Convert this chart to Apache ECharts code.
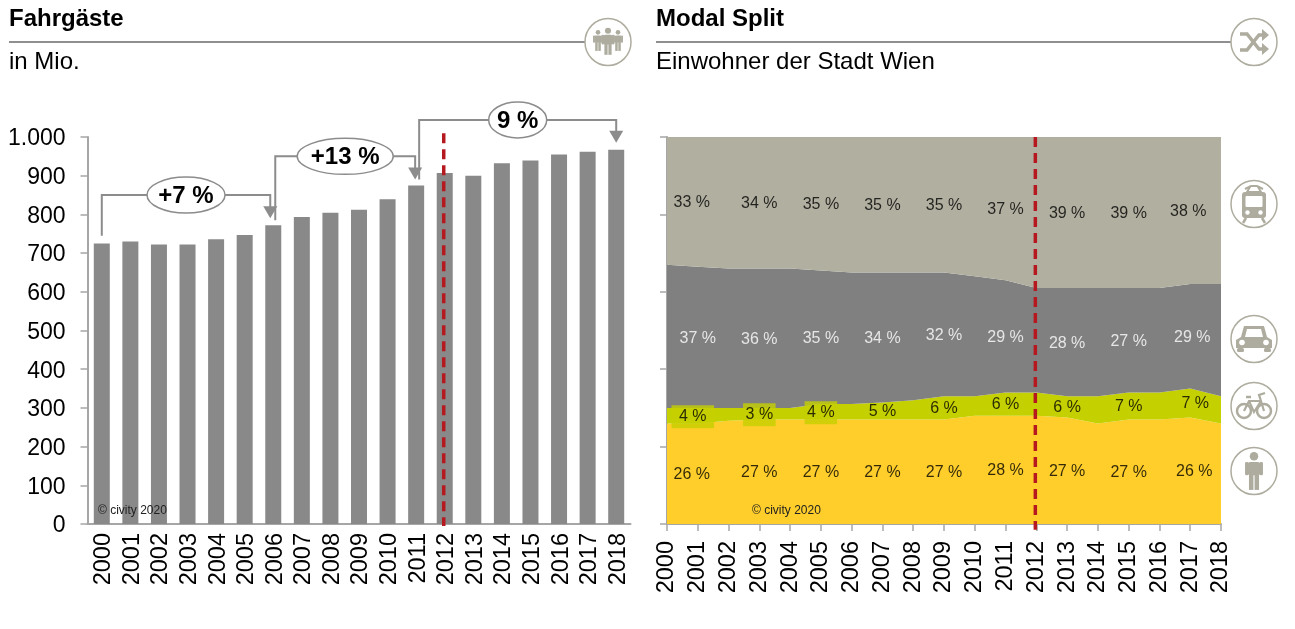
<!DOCTYPE html>
<html><head><meta charset="utf-8">
<style>html,body{margin:0;padding:0;background:#fff}#c{width:1295px;height:629px}</style>
<script src="https://cdn.jsdelivr.net/npm/echarts@6/dist/echarts.min.js"></script>
</head><body><div id="c"></div>
<script>
const years = ['2000','2001','2002','2003','2004','2005','2006','2007','2008','2009','2010','2011','2012','2013','2014','2015','2016','2017','2018'];
const passengers = [725,730,722,722,736,747,772,793,804,812,839,875,907,900,932,939,955,962,967];
const walkShare = [26,26,26.7,27,27,27,27,27,27,27,28,28,28,27.5,26,27,27,27.5,26];
const bikeShare = [4,4,3.3,3,3,4,4,4.4,5,6,5,6,6,5.5,7,7,7,7.5,7];
const carShare = [37,36.5,36,36,36,34.5,34,33.6,33,32,31,29,27,28,28,27,27,27,29];
const ptShare = [33,33.5,34,34,34,34.5,35,35,35,35,36,37,39,39,39,39,39,38,38];
const labelYears = [1,3,5,7,9,11,13,15,17];
const walkLabels = [26,27,27,27,27,28,27,27,26];
const bikeLabels = [4,3,4,5,6,6,6,7,7];
const carLabels = [37,36,35,34,32,29,28,27,29];
const ptLabels = [33,34,35,35,35,37,39,39,38];
const brackets = [
  {from:0, startVal:745, topVal:850, to:6, endVal:790, text:'+7 %'},
  {from:6, startVal:785, topVal:950, to:11, endVal:890, text:'+13 %'},
  {from:11, startVal:890, topVal:1044, to:18, endVal:985, text:'9 %'}
];
const FONT = '"Liberation Sans", Arial, sans-serif';
const AXIS = '#a6a6a6', ICON = '#aeac9e', RED = '#b5191f';
const G = {l:[87.5,137,543,387], r:[667,137,554,387]};

function band(i, lower, own){ return lower[i] + own[i]/2; }
const cum0 = years.map(()=>0);
const cum1 = walkShare.slice();
const cum2 = cum1.map((v,i)=>v+bikeShare[i]);
const cum3 = cum2.map((v,i)=>v+carShare[i]);

function labelSeries(name, lower, own, labels, color, nudge, bg){
  return {
    type:'scatter', name, xAxisIndex:1, yAxisIndex:1, symbolSize:0, z:5, silent:true,
    data: labelYears.map((yi,k)=>({
      value:[yi, band(yi,lower,own)],
      label:{
        show:true, position:'inside', formatter: labels[k]+' %', color, fontFamily:FONT, fontSize:16,
        offset:[k===0 ? nudge[0] : k===8 ? nudge[1] : 0, 1],
        backgroundColor: (bg && k<3) ? bg : 'transparent',
        padding: (bg && k<3) ? [4, k===0?7.5:2.5, 3, k===0?7.5:2.5] : 0
      }
    }))
  };
}
function area(name, vals, color){
  return {type:'line', name, stack:'m', xAxisIndex:1, yAxisIndex:1, data:vals, symbol:'none', silent:true,
    lineStyle:{width:0}, areaStyle:{color, opacity:1}, itemStyle:{color}, z:2};
}
function redLine(xAxisIndex, yAxisIndex, yTop, yBottom, dx){
  return {type:'custom', xAxisIndex, yAxisIndex, clip:false, z:6, silent:true, data:[[12,0]],
    renderItem(p, api){
      const a = api.coord([12,yTop]), b = api.coord([12,yBottom]);
      return {type:'line', shape:{x1:a[0]+dx,y1:a[1],x2:b[0]+dx,y2:b[1]},
        style:{stroke:RED, lineWidth:3.5, lineDash:[10,6]}};
    }};
}
const bracketSeries = {
  type:'custom', xAxisIndex:0, yAxisIndex:0, clip:false, z:7, silent:true,
  data: brackets.map((b,i)=>[b.from, b.topVal]),
  renderItem(p, api){
    const b = brackets[p.dataIndex];
    const s = api.coord([b.from,b.startVal]), t = api.coord([b.to,b.topVal]), e = api.coord([b.to,b.endVal]);
    const x1 = s[0] + (b.from===6 ? 2 : b.from===11 ? 3 : 0), x2 = e[0] + (b.to===6 ? -3 : b.to===11 ? -1 : 0), yT = t[1];
    const mx = (x1+x2)/2, rx = b.text.length>4 ? 48 : b.text.length>3 ? 39 : 29;
    const col = '#8c8c8c';
    return {type:'group', children:[
      {type:'polyline', shape:{points:[[x1,s[1]],[x1,yT],[x2,yT],[x2,e[1]-8]]}, style:{stroke:col,lineWidth:2,fill:null}},
      {type:'polygon', shape:{points:[[x2-7,e[1]-12],[x2+7,e[1]-12],[x2,e[1]]]}, style:{fill:col}},
      {type:'ellipse', shape:{cx:mx,cy:yT,rx,ry:18}, style:{fill:'#fff',stroke:col,lineWidth:1.5}},
      {type:'text', x:mx, y:yT+1, style:{text:b.text, fill:'#000', font:'bold 24px '+FONT, align:'center', verticalAlign:'middle'}}
    ]};
  }
};

/* header and icon decorations */
function header(x, x2, title, sub){
  return [
    {type:'text', left:x, top:7, style:{text:title, fill:'#000', font:'bold 24px '+FONT}},
    {type:'text', left:x, top:50, style:{text:sub, fill:'#000', font:'24px '+FONT}},
    {type:'line', shape:{x1:x,y1:42,x2:x2,y2:42}, style:{stroke:'#8f8f8f',lineWidth:2}}
  ];
}
function ring(cx,cy,children){
  return {type:'group', x:cx, y:cy, children:[
    {type:'ellipse', shape:{cx:0,cy:0,rx:23,ry:23.5}, style:{fill:'#fff',stroke:ICON,lineWidth:1.5}},
    ...children]};
}
const f = {fill:ICON};
const s = w=>({fill:null,stroke:ICON,lineWidth:w});
function person(x,y,k,fill){
  fill = fill||ICON;
  return [
    {type:'circle', shape:{cx:x,cy:y-14*k,r:3.8*k}, style:{fill}},
    {type:'rect', shape:{x:x-5.5*k,y:y-9*k,width:11*k,height:12*k,r:2*k}, style:{fill}},
    {type:'rect', shape:{x:x-8*k,y:y-9*k,width:3*k,height:12*k,r:1.2*k}, style:{fill}},
    {type:'rect', shape:{x:x+5*k,y:y-9*k,width:3*k,height:12*k,r:1.2*k}, style:{fill}},
    {type:'rect', shape:{x:x-4.5*k,y:y+2*k,width:4*k,height:14*k}, style:{fill}},
    {type:'rect', shape:{x:x+.5*k,y:y+2*k,width:4*k,height:14*k}, style:{fill}}
  ];
}
const iconPeople = ring(608,42,[...person(-10,-1,.62),...person(10,-1,.62),...person(0,0,.8)]);
const iconShuffle = ring(1254,42,[
  {type:'polyline',shape:{points:[[-14,-8],[-7,-8],[5,7],[9,7]]},style:s(3.5)},
  {type:'polyline',shape:{points:[[-14,8],[-7,8],[5,-7],[9,-7]]},style:s(3.5)},
  {type:'polygon',shape:{points:[[8,-13],[15,-7],[8,-1]]},style:f},
  {type:'polygon',shape:{points:[[8,1],[15,7],[8,13]]},style:f}
]);
const iconTrain = ring(1254,204,[
  {type:'polyline',shape:{points:[[-9,-15],[-3,-18],[3,-18],[9,-15]]},style:s(2)},
  {type:'polyline',shape:{points:[[-4,-17],[-7,-12],[7,-12],[4,-17]]},style:s(2)},
  {type:'rect',shape:{x:-12,y:-12,width:24,height:26,r:3},style:f},
  {type:'rect',shape:{x:-8.5,y:-8,width:17,height:11,r:1},style:{fill:'#fff'}},
  {type:'circle',shape:{cx:-6.5,cy:8.5,r:2.2},style:{fill:'#fff'}},
  {type:'circle',shape:{cx:6.5,cy:8.5,r:2.2},style:{fill:'#fff'}},
  {type:'line',shape:{x1:-8,y1:14,x2:-11,y2:19},style:{stroke:ICON,lineWidth:2.5}},
  {type:'line',shape:{x1:8,y1:14,x2:11,y2:19},style:{stroke:ICON,lineWidth:2.5}}
]);
const iconCar = ring(1254,339,[
  {type:'polygon',shape:{points:[[-13,-2],[-10,-13],[10,-13],[13,-2],[18,1],[18,9],[-18,9],[-18,1]]},style:f},
  {type:'polygon',shape:{points:[[-9,-2],[-7,-10],[7,-10],[9,-2]]},style:{fill:'#fff'}},
  {type:'circle',shape:{cx:-12,cy:3.5,r:2.8},style:{fill:'#fff'}},
  {type:'circle',shape:{cx:12,cy:3.5,r:2.8},style:{fill:'#fff'}},
  {type:'rect',shape:{x:-17,y:9,width:7,height:4,r:1.5},style:f},
  {type:'rect',shape:{x:10,y:9,width:7,height:4,r:1.5},style:f}
]);
const iconBike = ring(1254,406,[
  {type:'circle',shape:{cx:-10,cy:5,r:7},style:s(2.5)},
  {type:'circle',shape:{cx:10,cy:5,r:7},style:s(2.5)},
  {type:'polyline',shape:{points:[[-10,5],[-5,-5],[7,-5],[10,5]]},style:s(2.2)},
  {type:'polyline',shape:{points:[[-5,-5],[0,6],[7,-5]]},style:s(2.2)},
  {type:'polyline',shape:{points:[[-8,-9],[-3,-9]]},style:s(2.5)},
  {type:'polyline',shape:{points:[[7,-5],[5,-11],[11,-13]]},style:s(2.2)}
]);
const iconWalker = ring(1254,471,person(0,1,1.12));

const copyText = (x,y)=>({type:'text', left:x, top:y, z:10, style:{text:'© civity 2020', fill:'#222', font:'12px '+FONT}});

const shifted = {t:{padding:[4,0,0,0],fontFamily:FONT,fontSize:23.5,color:'#000'}};
const option = {
  animation:false,
  backgroundColor:'#fff',
  grid:[
    {left:G.l[0],top:G.l[1],width:G.l[2],height:G.l[3]},
    {left:G.r[0],top:G.r[1],width:G.r[2],height:G.r[3]}
  ],
  xAxis:[
    {type:'category',gridIndex:0,data:years,axisTick:{show:false},
     axisLine:{lineStyle:{color:AXIS,width:2}},
     axisLabel:{rotate:90,color:'#000',fontFamily:FONT,fontSize:23.5,margin:9,interval:0,
       formatter:v=>'{t|'+v+'}',rich:shifted}},
    {type:'category',gridIndex:1,data:years,boundaryGap:false,
     axisTick:{show:true,length:7,alignWithLabel:true,lineStyle:{color:AXIS,width:1.5}},
     axisLine:{lineStyle:{color:AXIS,width:2}},
     axisLabel:{rotate:90,color:'#000',fontFamily:FONT,fontSize:23.5,margin:17,interval:0}}
  ],
  yAxis:[
    {type:'value',gridIndex:0,min:0,max:1000,interval:100,splitLine:{show:false},
     axisLine:{show:true,lineStyle:{color:AXIS,width:2}},
     axisTick:{show:true,length:7,lineStyle:{color:AXIS,width:1.5}},
     axisLabel:{color:'#000',fontFamily:FONT,fontSize:23,margin:22,
       rich:{n:{padding:[4,0,0,0],fontFamily:FONT,fontSize:23,color:'#000'}},
       formatter:v=>'{n|'+(v>=1000?String(v).replace(/(\d)(\d{3})$/,'$1.$2'):String(v))+'}'}},
    {type:'value',gridIndex:1,min:0,max:100,interval:20,splitLine:{show:false},
     axisLine:{show:true,lineStyle:{color:AXIS,width:2}},
     axisTick:{show:true,length:7,lineStyle:{color:AXIS,width:1.5}},
     axisLabel:{show:false}}
  ],
  series:[
    {type:'bar',xAxisIndex:0,yAxisIndex:0,data:passengers,barWidth:16,itemStyle:{color:'#898989'},silent:true,z:2},
    redLine(0,0,1010,-5,-1),
    bracketSeries,
    area('Fuß',walkShare,'#ffce2b'),
    area('Rad',bikeShare,'#c5d000'),
    area('Auto',carShare,'#808080'),
    area('ÖV',ptShare,'#b1afa0'),
    labelSeries('lFuß',cum0,walkShare,walkLabels,'#000',[-6,4]),
    labelSeries('lRad',cum1,bikeShare,bikeLabels,'#000',[-5,5],'#c5d000'),
    labelSeries('lAuto',cum2,carShare,carLabels,'#fff',[0,2]),
    labelSeries('lÖV',cum3,ptShare,ptLabels,'#000',[-6,-2]),
    redLine(1,1,100,-1.5,-1)
  ],
  graphic:[
    ...header(9,590,'Fahrgäste','in Mio.'),
    ...header(656,1236,'Modal Split','Einwohner der Stadt Wien'),
    iconPeople,iconShuffle,iconTrain,iconCar,iconBike,iconWalker,
    copyText(98,505),copyText(752,505)
  ]
};
echarts.init(document.getElementById('c')).setOption(option);
</script></body></html>
